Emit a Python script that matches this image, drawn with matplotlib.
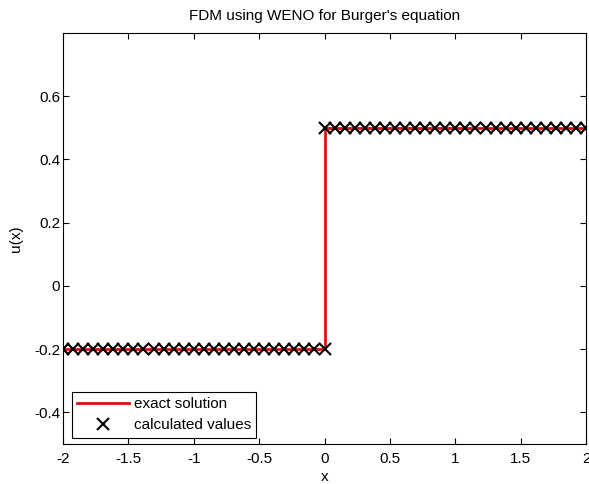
import numpy as np
import matplotlib.pyplot as plt

plt.rcParams['font.family'] = ['Liberation Sans', 'DejaVu Sans']

# solución exacta (choque)
x_exact = [-2.0, 0.0, 0.0, 2.0]
u_exact = [-0.2, -0.2, 0.5, 0.5]

# valores calculados
x_left = [-2.0, -1.923, -1.846, -1.769, -1.692, -1.615, -1.538, -1.462, -1.385,
          -1.308, -1.231, -1.154, -1.077, -1.0, -0.923, -0.846, -0.769, -0.692,
          -0.615, -0.538, -0.462, -0.385, -0.308, -0.231, -0.154, -0.077, 0.0]
u_left = [-0.2] * len(x_left)
x_right = [0.0, 0.077, 0.154, 0.231, 0.308, 0.385, 0.462, 0.538, 0.615,
           0.692, 0.769, 0.846, 0.923, 1.0, 1.077, 1.154, 1.231, 1.308,
           1.385, 1.462, 1.538, 1.615, 1.692, 1.769, 1.846, 1.923, 2.0]
u_right = [0.5] * len(x_right)

x_calc = np.array(x_left + x_right)
u_calc = np.array(u_left + u_right)

fig = plt.figure(figsize=(5.89, 4.84), dpi=100)
ax = fig.add_axes([0.107, 0.083, 0.888, 0.849])

ax.plot(x_exact, u_exact, color='#dd1111', lw=2, label='exact solution')
ax.plot(x_calc, u_calc, 'x', color='black', ms=8.3, mew=1.5,
        label='calculated values')

ax.set_xlim(-2, 2)
ax.set_ylim(-0.5, 0.8)
ax.set_xticks([-2, -1.5, -1, -0.5, 0, 0.5, 1, 1.5, 2])
ax.set_xticklabels(['-2', '-1.5', '-1', '-0.5', '0', '0.5', '1', '1.5', '2'])
ax.set_yticks([-0.4, -0.2, 0, 0.2, 0.4, 0.6])
ax.set_yticklabels(['-0.4', '-0.2', '0', '0.2', '0.4', '0.6'])
ax.tick_params(direction='in', top=True, right=True, length=4,
               labelsize=11, colors='black')
ax.tick_params(axis='x', pad=6)
ax.tick_params(axis='y', pad=2)
for s in ax.spines.values():
    s.set_linewidth(0.8)

ax.set_xlabel('x', fontsize=11, labelpad=3)
ax.set_ylabel('u(x)', fontsize=11, labelpad=8)
ax.set_title("FDM using WENO for Burger's equation", fontsize=11, pad=9)

leg = ax.legend(loc='lower left', bbox_to_anchor=(0.017, 0.015),
                borderaxespad=0, fontsize=11, fancybox=False,
                edgecolor='black', framealpha=1, handlelength=3.4,
                handletextpad=0.3, borderpad=0.35, labelspacing=0.45)
leg.get_frame().set_linewidth(0.8)

fig.savefig('out.png', dpi=100)
